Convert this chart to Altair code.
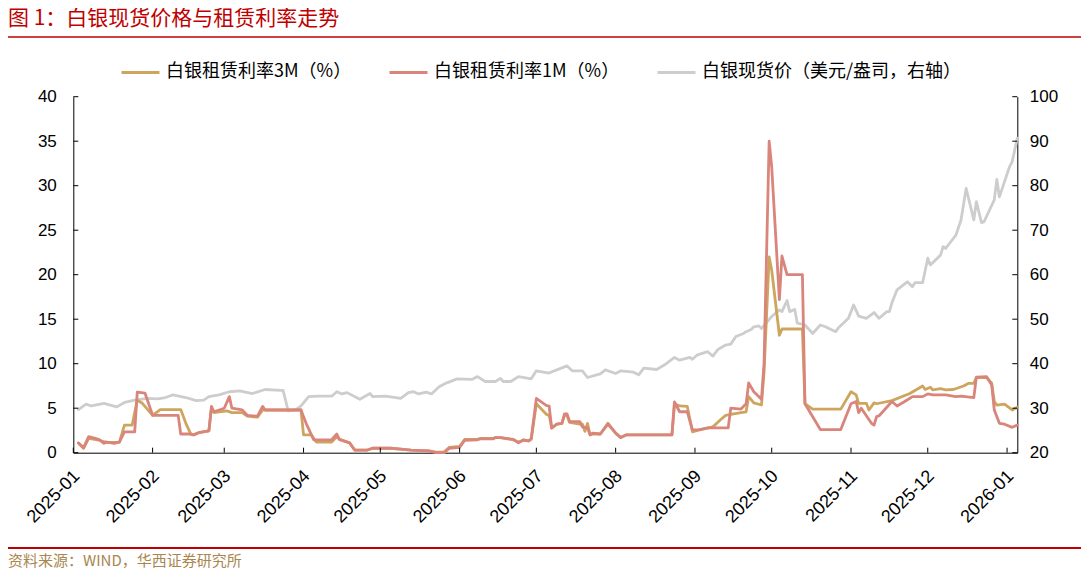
import altair as alt
import pandas as pd

# ---------------- data ----------------
spot_dates = [
    "2025-01-03", "2025-01-06", "2025-01-08", "2025-01-13", "2025-01-18", "2025-01-21", "2025-01-25", "2025-01-30",
    "2025-02-03", "2025-02-06", "2025-02-09", "2025-02-14", "2025-02-18", "2025-02-21", "2025-02-23", "2025-02-27",
    "2025-03-03", "2025-03-07", "2025-03-12", "2025-03-17", "2025-03-23", "2025-03-24", "2025-03-26", "2025-03-29", "2025-03-31",
    "2025-04-03", "2025-04-07", "2025-04-12", "2025-04-14", "2025-04-16", "2025-04-18", "2025-04-23", "2025-04-27", "2025-04-28",
    "2025-05-03", "2025-05-09", "2025-05-12", "2025-05-14", "2025-05-16", "2025-05-19", "2025-05-21", "2025-05-24", "2025-05-27", "2025-05-31",
    "2025-06-06", "2025-06-08", "2025-06-11", "2025-06-15", "2025-06-17", "2025-06-18", "2025-06-21", "2025-06-24", "2025-06-29",
    "2025-07-01", "2025-07-06", "2025-07-08", "2025-07-13", "2025-07-15", "2025-07-19", "2025-07-21", "2025-07-26", "2025-07-28",
    "2025-08-01", "2025-08-03", "2025-08-08", "2025-08-10", "2025-08-12", "2025-08-17", "2025-08-20", "2025-08-24", "2025-08-26", "2025-08-30", "2025-08-31",
    "2025-09-02", "2025-09-06", "2025-09-08", "2025-09-10", "2025-09-13", "2025-09-15", "2025-09-17", "2025-09-20", "2025-09-21", "2025-09-23", "2025-09-24", "2025-09-26", "2025-09-27",
    "2025-10-01", "2025-10-04", "2025-10-05", "2025-10-07", "2025-10-08", "2025-10-10", "2025-10-11", "2025-10-14", "2025-10-17", "2025-10-20", "2025-10-22", "2025-10-26", "2025-10-27", "2025-10-31",
    "2025-11-02", "2025-11-04", "2025-11-07", "2025-11-10", "2025-11-12", "2025-11-15", "2025-11-16", "2025-11-17", "2025-11-19", "2025-11-23", "2025-11-25", "2025-11-26", "2025-11-29",
    "2025-12-01", "2025-12-02", "2025-12-06", "2025-12-07", "2025-12-08", "2025-12-10", "2025-12-12", "2025-12-14", "2025-12-16", "2025-12-19", "2025-12-20", "2025-12-22", "2025-12-23", "2025-12-27", "2025-12-28", "2025-12-29",
    "2026-01-02", "2026-01-03", "2026-01-05",
]
spot_vals = [
    29.7, 30.9, 30.5, 31.1, 30.3, 31.3, 31.8, 32.2,
    32.1, 32.4, 33.0, 32.4, 31.7, 31.8, 32.6, 33.0,
    33.7, 33.9, 33.3, 34.2, 34.0, 34.0, 29.4, 29.7, 30.5,
    32.6, 32.7, 32.7, 33.7, 33.2, 33.5, 32.0, 33.3, 32.6,
    32.7, 32.2, 33.5, 33.7, 33.2, 33.6, 33.2, 34.8, 35.7, 36.6,
    36.5, 37.1, 36.0, 36.0, 36.7, 36.0, 36.0, 37.1, 36.6,
    38.4, 37.9, 38.4, 39.5, 38.4, 38.4, 36.9, 37.7, 38.6,
    37.8, 38.4, 38.1, 37.5, 39.0, 38.7, 39.7, 41.4, 40.8, 41.4, 41.0,
    42.0, 42.7, 41.7, 43.2, 44.2, 44.4, 46.1, 46.8, 47.2, 47.7, 48.3, 48.5, 47.9,
    50.6, 52.1, 51.7, 54.2, 51.7, 52.2, 49.1, 48.7, 46.8, 48.7, 48.3, 47.2, 48.0, 50.2,
    53.2, 50.7, 50.2, 51.5, 50.2, 51.7, 51.7, 53.7, 56.6, 58.4, 57.3, 58.2, 58.2,
    63.7, 62.2, 64.4, 66.3, 65.9, 67.4, 68.9, 72.3, 79.4, 72.3, 76.4, 71.7, 71.9, 76.8, 81.4, 77.5,
    84.3, 85.4, 90.7,
]

m3_dates = [
    "2025-01-03", "2025-01-05", "2025-01-07", "2025-01-11", "2025-01-14", "2025-01-19", "2025-01-21", "2025-01-24", "2025-01-26", "2025-01-28",
    "2025-02-01", "2025-02-04", "2025-02-12", "2025-02-14", "2025-02-16", "2025-02-17", "2025-02-19", "2025-02-23", "2025-02-24", "2025-02-25",
    "2025-03-02", "2025-03-04", "2025-03-08", "2025-03-10", "2025-03-14", "2025-03-16", "2025-03-31",
    "2025-04-01", "2025-04-04", "2025-04-06", "2025-04-12", "2025-04-14", "2025-04-15", "2025-04-19", "2025-04-21", "2025-04-26", "2025-04-28",
    "2025-05-05", "2025-05-09", "2025-05-13", "2025-05-20", "2025-05-23", "2025-05-26", "2025-05-28",
    "2025-06-01", "2025-06-03", "2025-06-08", "2025-06-09", "2025-06-14", "2025-06-15", "2025-06-17", "2025-06-22", "2025-06-24", "2025-06-26", "2025-06-28", "2025-06-29",
    "2025-07-01", "2025-07-05", "2025-07-06", "2025-07-07", "2025-07-09", "2025-07-11", "2025-07-12", "2025-07-13", "2025-07-14", "2025-07-18", "2025-07-19", "2025-07-20", "2025-07-21", "2025-07-22", "2025-07-23", "2025-07-26", "2025-07-29",
    "2025-08-01", "2025-08-03", "2025-08-05", "2025-08-23", "2025-08-24", "2025-08-26", "2025-08-29", "2025-08-31",
    "2025-09-02", "2025-09-08", "2025-09-11", "2025-09-13", "2025-09-15", "2025-09-19", "2025-09-21", "2025-09-22", "2025-09-24", "2025-09-27", "2025-09-28", "2025-09-30",
    "2025-10-01", "2025-10-04", "2025-10-05", "2025-10-13", "2025-10-14", "2025-10-17", "2025-10-28",
    "2025-11-01", "2025-11-03", "2025-11-04", "2025-11-07", "2025-11-08", "2025-11-10", "2025-11-11", "2025-11-17", "2025-11-24", "2025-11-29", "2025-11-30",
    "2025-12-02", "2025-12-03", "2025-12-06", "2025-12-08", "2025-12-11", "2025-12-15", "2025-12-17", "2025-12-19", "2025-12-20", "2025-12-24", "2025-12-26", "2025-12-27", "2025-12-28", "2025-12-31",
    "2026-01-03", "2026-01-05",
]
m3_vals = [
    1.1, 0.5, 1.6, 1.4, 1.15, 1.15, 3.1, 3.1, 5.9, 5.55,
    4.2, 4.85, 4.85, 3.3, 2.05, 2.0, 2.25, 2.45, 5.0, 4.5,
    4.7, 4.5, 4.5, 4.1, 4.0, 4.8, 4.8,
    2.0, 2.0, 1.2, 1.2, 1.8, 1.5, 1.1, 0.3, 0.3, 0.5,
    0.5, 0.4, 0.3, 0.2, 0.05, 0.1, 0.6,
    0.7, 1.5, 1.5, 1.6, 1.6, 1.7, 1.7, 1.45, 1.2, 1.4, 1.35, 1.5,
    5.5, 4.3, 4.2, 2.8, 3.2, 3.3, 4.2, 4.2, 3.4, 3.2, 3.2, 2.4, 3.3, 2.0, 2.1, 2.1, 3.2,
    2.2, 1.7, 2.0, 2.0, 5.5, 5.25, 5.2, 2.35,
    2.5, 2.9, 3.7, 4.2, 4.3, 4.5, 4.6, 6.3, 5.6, 5.36, 9.0, 22.0,
    20.5, 13.2, 13.9, 13.9, 5.5, 4.9, 4.9,
    6.85, 6.5, 5.55, 5.55, 4.8, 5.6, 5.5, 5.85, 6.65, 7.5, 7.1,
    7.35, 7.05, 7.2, 7.05, 7.1, 7.5, 7.8, 7.8, 8.45, 8.45, 7.8, 5.75, 5.35, 5.45,
    4.8, 5.1,
]

m1_dates = [
    "2025-01-03", "2025-01-05", "2025-01-07", "2025-01-11", "2025-01-13", "2025-01-14", "2025-01-17", "2025-01-19", "2025-01-21", "2025-01-25", "2025-01-26", "2025-01-29",
    "2025-02-01", "2025-02-11", "2025-02-12", "2025-02-16", "2025-02-17", "2025-02-19", "2025-02-23", "2025-02-24", "2025-02-25",
    "2025-03-01", "2025-03-03", "2025-03-04", "2025-03-08", "2025-03-10", "2025-03-14", "2025-03-16", "2025-03-17", "2025-03-31",
    "2025-04-02", "2025-04-05", "2025-04-12", "2025-04-14", "2025-04-15", "2025-04-19", "2025-04-21", "2025-04-26", "2025-04-28",
    "2025-05-05", "2025-05-09", "2025-05-13", "2025-05-20", "2025-05-23", "2025-05-26", "2025-05-28",
    "2025-06-01", "2025-06-03", "2025-06-08", "2025-06-09", "2025-06-14", "2025-06-15", "2025-06-17", "2025-06-22", "2025-06-24", "2025-06-26", "2025-06-28", "2025-06-29",
    "2025-07-01", "2025-07-05", "2025-07-06", "2025-07-07", "2025-07-09", "2025-07-11", "2025-07-12", "2025-07-13", "2025-07-14", "2025-07-18", "2025-07-19", "2025-07-21", "2025-07-22", "2025-07-23", "2025-07-26", "2025-07-29",
    "2025-08-01", "2025-08-03", "2025-08-05", "2025-08-23", "2025-08-24", "2025-08-26", "2025-08-29", "2025-08-31",
    "2025-09-02", "2025-09-06", "2025-09-14", "2025-09-15", "2025-09-19", "2025-09-21", "2025-09-22", "2025-09-24", "2025-09-27", "2025-09-28", "2025-09-30",
    "2025-10-01", "2025-10-04", "2025-10-05", "2025-10-07", "2025-10-13", "2025-10-14", "2025-10-20", "2025-10-28",
    "2025-11-01", "2025-11-03", "2025-11-04", "2025-11-05", "2025-11-09", "2025-11-10", "2025-11-11", "2025-11-12", "2025-11-17", "2025-11-19", "2025-11-22", "2025-11-25", "2025-11-29",
    "2025-12-01", "2025-12-03", "2025-12-08", "2025-12-12", "2025-12-14", "2025-12-19", "2025-12-20", "2025-12-24", "2025-12-26", "2025-12-27", "2025-12-29", "2025-12-31",
    "2026-01-03", "2026-01-05",
]
m1_vals = [
    1.1, 0.55, 1.8, 1.5, 1.05, 1.2, 1.05, 1.2, 2.35, 2.35, 6.8, 6.7,
    4.2, 4.2, 2.1, 2.1, 2.0, 2.25, 2.45, 5.2, 4.6,
    5.0, 6.3, 5.0, 4.8, 4.2, 4.1, 5.2, 4.8, 4.8,
    3.3, 1.45, 1.45, 2.1, 1.5, 1.1, 0.3, 0.3, 0.5,
    0.5, 0.4, 0.3, 0.2, 0.0, 0.0, 0.5,
    0.6, 1.4, 1.45, 1.55, 1.55, 1.7, 1.7, 1.5, 1.1, 1.45, 1.3, 1.6,
    6.1, 5.3, 5.25, 2.75, 3.2, 3.3, 4.35, 4.35, 3.5, 3.5, 2.9, 2.8, 2.0, 2.2, 2.1, 3.3,
    2.2, 1.7, 2.0, 2.0, 5.7, 4.6, 4.6, 2.6,
    2.55, 2.8, 2.8, 5.0, 4.9, 5.5, 7.85, 6.85, 6.0, 10.0, 35.0,
    32.1, 17.2, 22.1, 20.0, 20.0, 5.5, 2.6, 2.6,
    5.5, 5.75, 4.5, 5.0, 3.3, 3.1, 4.05, 4.15, 5.75, 5.25, 5.75, 6.3, 6.3,
    6.6, 6.5, 6.5, 6.3, 6.35, 6.2, 8.5, 8.55, 7.6, 4.8, 3.3, 3.2,
    2.85, 3.1,
]

left_ticks = [0, 5, 10, 15, 20, 25, 30, 35, 40]
right_ticks = [20, 30, 40, 50, 60, 70, 80, 90, 100]
month_ticks = [
    "2025-01-01", "2025-02-01", "2025-03-01", "2025-04-01", "2025-05-01", "2025-06-01", "2025-07-01",
    "2025-08-01", "2025-09-01", "2025-10-01", "2025-11-01", "2025-12-01", "2026-01-01",
]
series_names = ["白银租赁利率3M（%）", "白银租赁利率1M（%）", "白银现货价（美元/盎司，右轴）"]
series_colors = ["#CDA55E", "#D9857B", "#CDCDCD"]
title_text = "图 1：白银现货价格与租赁利率走势"
source_text = "资料来源：WIND，华西证券研究所"

# ---------------- layout ----------------
W, H = 944, 356
PAD_L, PAD_T = 65.3, 88.7
TOTAL_W, TOTAL_H = 1073, 562
RED = "#C00000"
AX_FONT = "Liberation Sans"
CJK_FONT = "Noto Sans CJK SC"

spot_df = pd.DataFrame({"date": spot_dates, "value": spot_vals, "series": series_names[2]})
m3_df = pd.DataFrame({"date": m3_dates, "value": m3_vals, "series": series_names[0]})
m1_df = pd.DataFrame({"date": m1_dates, "value": m1_vals, "series": series_names[1]})
month_df = pd.DataFrame({"date": month_ticks})
left_df = pd.DataFrame({"v": left_ticks})
right_df = pd.DataFrame({"v": right_ticks})
one_df = pd.DataFrame({"k": [0]})

x_scale = alt.Scale(
    type="utc",
    nice=False,
    domain=[alt.DateTime(year=2025, month=1, date=1, utc=True),
            alt.DateTime(year=2026, month=1, date=5, utc=True)],
)
x_axis = alt.Axis(
    values=[alt.DateTime(year=int(m[:4]), month=int(m[5:7]), date=1, utc=True) for m in month_ticks],
    labelExpr="utcFormat(datum.value, '%Y-%m')",
    labelAngle=-45,
    labelAlign="right",
    labelBaseline="top",
    labelPadding=14,
    labelOffset=-3,
    labelFont=AX_FONT,
    labelFontSize=18,
    labelColor="black",
    ticks=False,
    domainColor="black",
    domainWidth=1,
    grid=False,
    title=None,
    labelOverlap=False,
)
X = alt.X("date:T", scale=x_scale, axis=x_axis)

legend = alt.Legend(
    orient="none",
    legendX=46.7,
    legendY=-45,
    direction="horizontal",
    title=None,
    symbolType="stroke",
    symbolSize=1444,
    symbolStrokeWidth=3,
    labelFont=CJK_FONT,
    labelFontSize=18,
    labelColor="black",
    labelLimit=600,
    labelOffset=5,
    columnPadding=31,
)
color = alt.Color("series:N", scale=alt.Scale(domain=series_names, range=series_colors), legend=legend)

line_kw = dict(strokeWidth=2.8, strokeJoin="round", strokeCap="round")

spot = alt.Chart(spot_df).mark_line(**line_kw).encode(
    x=X,
    y=alt.Y("value:Q", scale=alt.Scale(domain=[20, 100], nice=False, zero=False),
            axis=alt.Axis(orient="right", values=right_ticks, ticks=False, labelPadding=12,
                          labelFont=AX_FONT, labelFontSize=17, labelColor="black",
                          domainColor="black", domainWidth=1, grid=False, title=None)),
    color=color,
)
m3 = alt.Chart(m3_df).mark_line(**line_kw).encode(
    x=X,
    y=alt.Y("value:Q", scale=alt.Scale(domain=[0, 40], nice=False),
            axis=alt.Axis(orient="left", values=left_ticks, ticks=False, labelPadding=17,
                          labelFont=AX_FONT, labelFontSize=17, labelColor="black",
                          domainColor="black", domainWidth=1, grid=False, title=None)),
    color=color,
)
m1 = alt.Chart(m1_df).mark_line(**line_kw).encode(
    x=X,
    y=alt.Y("value:Q", scale=alt.Scale(domain=[0, 40], nice=False), axis=None),
    color=color,
)

xticks = alt.Chart(month_df).mark_rule(color="black", strokeWidth=1).encode(
    x=X, y=alt.value(H - 5), y2=alt.value(H)
)
lticks = alt.Chart(left_df).mark_rule(color="black", strokeWidth=1).encode(
    y=alt.Y("v:Q", scale=alt.Scale(domain=[0, 40], nice=False), axis=None),
    x=alt.value(0), x2=alt.value(5),
)
rticks = alt.Chart(right_df).mark_rule(color="black", strokeWidth=1).encode(
    y=alt.Y("v:Q", scale=alt.Scale(domain=[20, 100], nice=False, zero=False), axis=None),
    x=alt.value(W - 5), x2=alt.value(W),
)

title = alt.Chart(one_df).mark_text(
    align="left", baseline="middle", font=CJK_FONT, fontSize=21, color=RED, text=title_text
).encode(x=alt.value(-PAD_L), y=alt.value(-77.7))
top_rule = alt.Chart(one_df).mark_rule(color=RED, strokeWidth=1.5).encode(
    x=alt.value(-PAD_L), x2=alt.value(TOTAL_W - PAD_L), y=alt.value(-59.7)
)
bottom_rule = alt.Chart(one_df).mark_rule(color=RED, strokeWidth=2).encode(
    x=alt.value(-PAD_L), x2=alt.value(TOTAL_W - PAD_L), y=alt.value(451.3)
)
source = alt.Chart(one_df).mark_text(
    align="left", baseline="middle", font=CJK_FONT, fontSize=15, color="#A8864E", text=source_text
).encode(x=alt.value(-PAD_L), y=alt.value(463.8))

chart = alt.layer(
    spot, m3, m1, xticks, lticks, rticks, title, top_rule, bottom_rule, source
).resolve_scale(y="independent").properties(
    width=W,
    height=H,
    autosize=alt.AutoSizeParams(type="none"),
    padding={"left": PAD_L, "top": PAD_T, "right": TOTAL_W - PAD_L - W, "bottom": TOTAL_H - PAD_T - H},
    background="white",
).configure_view(stroke="transparent")

chart.save("out.html", embed_options={"renderer": "svg", "actions": False})
